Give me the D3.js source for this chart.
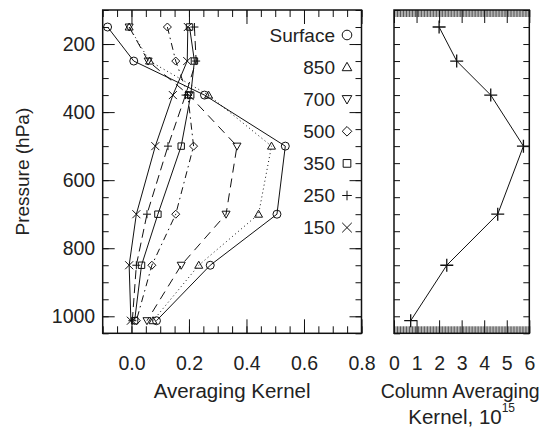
<!DOCTYPE html>
<html>
<head>
<meta charset="utf-8">
<script src="https://cdn.jsdelivr.net/npm/d3@7"></script>
<style>
  body { margin: 0; background: #fff; }
  text { font-family: "Liberation Sans", Arial, Helvetica, sans-serif; fill: #222; }
</style>
</head>
<body>
<div id="chart"></div>
<script>
// pressure levels (hPa) where the kernels are given
var pressureLevels = [150, 250, 350, 500, 700, 850, 1013];
var seriesNames = ["Surface", "850", "700", "500", "350", "250", "150"];

// averaging kernel rows, one per retrieval level
var akSurface = [-0.083, 0.008, 0.254, 0.535, 0.506, 0.274, 0.087];
var ak850 = [-0.008, 0.063, 0.268, 0.487, 0.442, 0.234, 0.075];
var ak700 = [-0.008, 0.058, 0.200, 0.367, 0.329, 0.173, 0.054];
var ak500 = [0.125, 0.154, 0.196, 0.216, 0.154, 0.071, 0.017];
var ak350 = [0.202, 0.219, 0.206, 0.173, 0.092, 0.035, 0.011];
var ak250 = [0.219, 0.225, 0.188, 0.127, 0.054, 0.017, 0.003];
var ak150 = [0.196, 0.194, 0.144, 0.083, 0.017, -0.008, -0.002];

// column averaging kernel, units of 10^15
var columnAK = [2.0, 2.78, 4.29, 5.74, 4.6, 2.34, 0.74];

var akTicks = [0.0, 0.2, 0.4, 0.6, 0.8];
var columnTicks = [0, 1, 2, 3, 4, 5, 6];
var pressureTicks = [200, 400, 600, 800, 1000];

var allSeries = [akSurface, ak850, ak700, ak500, ak350, ak250, ak150];
var markerTypes = ["circle", "triUp", "triDown", "diamond", "square", "plus", "cross"];
var dashes = [null, "1,3", "9,6", "7,4,1.5,4", null, "9,5", null];

var W = 542, H = 427;
var plotTop = 10, plotBottom = 333.3;
var left1 = 102.7, right1 = 361.5;
var left2 = 394, right2 = 529.3;
var tickFont = 19.5, titleFont = 20.5, legendFont = 19;

var svg = d3.select("#chart").append("svg")
  .attr("width", W)
  .attr("height", H);

var yScale = d3.scaleLinear()
  .domain([100, 1050])
  .range([plotTop, plotBottom]);

var xLeft = d3.scaleLinear()
  .domain([-0.1, 0.8])
  .range([left1, right1]);

var xRight = d3.scaleLinear()
  .domain([0, 6])
  .range([left2, right2]);

var markerPath = function(type, s) {
  var p = d3.path();
  if (type == "circle") {
    p.moveTo(s, 0);
    p.arc(0, 0, s, 0, 2 * Math.PI);
  } else if (type == "triUp") {
    p.moveTo(-s, s * 0.75); p.lineTo(s, s * 0.75); p.lineTo(0, -s * 1.0); p.closePath();
  } else if (type == "triDown") {
    p.moveTo(-s, -s * 0.75); p.lineTo(s, -s * 0.75); p.lineTo(0, s * 1.0); p.closePath();
  } else if (type == "diamond") {
    p.moveTo(0, -s); p.lineTo(s, 0); p.lineTo(0, s); p.lineTo(-s, 0); p.closePath();
  } else if (type == "square") {
    p.rect(-s * 0.8, -s * 0.8, s * 1.6, s * 1.6);
  } else if (type == "plus") {
    p.moveTo(-s, 0); p.lineTo(s, 0); p.moveTo(0, -s); p.lineTo(0, s);
  } else if (type == "cross") {
    p.moveTo(-s, -s); p.lineTo(s, s); p.moveTo(-s, s); p.lineTo(s, -s);
  }
  return p.toString();
};

// tick helper: no domain line, just the ticks
var addTicks = function(axis, vals, size, transform, sw) {
  var g = svg.append("g")
    .attr("transform", transform)
    .call(axis.tickValues(vals).tickSize(size).tickFormat(""));
  g.select(".domain").remove();
  g.selectAll("line").attr("stroke", "#111").attr("stroke-width", sw || 1);
  return g;
};

// ---------- left panel ----------
var yMinor = d3.range(100, 1051, 50);
var akMinor = d3.range(-0.1, 0.8001, 0.05);

addTicks(d3.axisLeft(yScale), yMinor, -6, "translate(" + left1 + ",0)");
addTicks(d3.axisLeft(yScale), pressureTicks, -12, "translate(" + left1 + ",0)");
addTicks(d3.axisRight(yScale), yMinor, -6, "translate(" + right1 + ",0)");
addTicks(d3.axisRight(yScale), pressureTicks, -12, "translate(" + right1 + ",0)");
addTicks(d3.axisBottom(xLeft), akMinor, -7, "translate(0," + plotBottom + ")");
addTicks(d3.axisBottom(xLeft), akTicks, -14, "translate(0," + plotBottom + ")");
addTicks(d3.axisTop(xLeft), akMinor, -7, "translate(0," + plotTop + ")");
addTicks(d3.axisTop(xLeft), akTicks, -14, "translate(0," + plotTop + ")");

var yLabels = svg.append("g")
  .attr("transform", "translate(" + left1 + ",0)")
  .call(d3.axisLeft(yScale).tickValues(pressureTicks).tickSize(0).tickPadding(7.5).tickFormat(d3.format("d")));
yLabels.select(".domain").remove();
yLabels.selectAll("text").attr("font-size", tickFont).attr("font-family", null).attr("fill", null);

var xLabels = svg.append("g")
  .attr("transform", "translate(0," + plotBottom + ")")
  .call(d3.axisBottom(xLeft).tickValues(akTicks).tickSize(0).tickPadding(22.5).tickFormat(d3.format(".1f")));
xLabels.select(".domain").remove();
xLabels.selectAll("text").attr("font-size", tickFont).attr("font-family", null).attr("fill", null);

svg.append("rect")
  .attr("x", left1).attr("y", plotTop)
  .attr("width", right1 - left1).attr("height", plotBottom - plotTop)
  .attr("fill", "none").attr("stroke", "#111").attr("stroke-width", 1.5);

var line = d3.line()
  .x(function(d, i) { return xLeft(d); })
  .y(function(d, i) { return yScale(pressureLevels[i]); });

for (var k = 0; k < allSeries.length; k++) {
  svg.append("path")
    .datum(allSeries[k])
    .attr("d", line)
    .attr("fill", "none")
    .attr("stroke", "#111")
    .attr("stroke-width", 1)
    .attr("stroke-dasharray", dashes[k]);

  svg.selectAll(".mk" + k)
    .data(allSeries[k])
    .enter()
    .append("path")
    .attr("class", "mk" + k)
    .attr("transform", function(d, i) { return "translate(" + xLeft(d) + "," + yScale(pressureLevels[i]) + ")"; })
    .attr("d", markerPath(markerTypes[k], 4))
    .attr("fill", "none")
    .attr("stroke", "#111")
    .attr("stroke-width", 1);
}

// legend
var legend = svg.selectAll(".legend")
  .data(seriesNames)
  .enter()
  .append("g")
  .attr("class", "legend")
  .attr("transform", function(d, i) { return "translate(0," + (35 + i * 32.1) + ")"; });

legend.append("text")
  .attr("x", 335)
  .attr("y", 6.8)
  .attr("text-anchor", "end")
  .attr("font-size", legendFont)
  .text(function(d) { return d; });

legend.append("path")
  .attr("transform", "translate(347,0)")
  .attr("d", function(d, i) { return markerPath(markerTypes[i], 4.8); })
  .attr("fill", "none")
  .attr("stroke", "#111")
  .attr("stroke-width", 1);

svg.append("text")
  .attr("x", (left1 + right1) / 2)
  .attr("y", 398)
  .attr("text-anchor", "middle")
  .attr("font-size", titleFont)
  .text("Averaging Kernel");

svg.append("text")
  .attr("transform", "translate(28.5," + ((plotTop + plotBottom) / 2) + ") rotate(-90)")
  .attr("text-anchor", "middle")
  .attr("font-size", 19)
  .text("Pressure (hPa)");

// ---------- right panel ----------
var colMinor = d3.range(0, 6.001, 1 / 15);

addTicks(d3.axisLeft(yScale), yMinor, -6, "translate(" + left2 + ",0)");
addTicks(d3.axisRight(yScale), yMinor, -6, "translate(" + right2 + ",0)");
addTicks(d3.axisBottom(xRight), colMinor, -7, "translate(0," + plotBottom + ")", 0.7);
addTicks(d3.axisBottom(xRight), columnTicks, -13, "translate(0," + plotBottom + ")");
addTicks(d3.axisTop(xRight), colMinor, -7, "translate(0," + plotTop + ")", 0.7);
addTicks(d3.axisTop(xRight), columnTicks, -13, "translate(0," + plotTop + ")");

var cLabels = svg.append("g")
  .attr("transform", "translate(0," + plotBottom + ")")
  .call(d3.axisBottom(xRight).tickValues(columnTicks).tickSize(0).tickPadding(22.5).tickFormat(d3.format("d")));
cLabels.select(".domain").remove();
cLabels.selectAll("text").attr("font-size", tickFont).attr("font-family", null).attr("fill", null);

svg.append("rect")
  .attr("x", left2).attr("y", plotTop)
  .attr("width", right2 - left2).attr("height", plotBottom - plotTop)
  .attr("fill", "none").attr("stroke", "#111").attr("stroke-width", 1.5);

var colLine = d3.line()
  .x(function(d, i) { return xRight(d); })
  .y(function(d, i) { return yScale(pressureLevels[i]); });

svg.append("path")
  .datum(columnAK)
  .attr("d", colLine)
  .attr("fill", "none")
  .attr("stroke", "#111")
  .attr("stroke-width", 1);

svg.selectAll(".colmk")
  .data(columnAK)
  .enter()
  .append("path")
  .attr("class", "colmk")
  .attr("transform", function(d, i) { return "translate(" + xRight(d) + "," + yScale(pressureLevels[i]) + ")"; })
  .attr("d", markerPath("plus", 6.5))
  .attr("fill", "none")
  .attr("stroke", "#111")
  .attr("stroke-width", 1.3);

var cx = (left2 + right2) / 2;
svg.append("text")
  .attr("x", cx - 1.5)
  .attr("y", 398)
  .attr("text-anchor", "middle")
  .attr("font-size", 19.5)
  .text("Column Averaging");

var t2 = svg.append("text")
  .attr("x", cx)
  .attr("y", 424)
  .attr("text-anchor", "middle")
  .attr("font-size", titleFont);
t2.append("tspan").text("Kernel, 10");
t2.append("tspan").attr("dy", -12).attr("font-size", 12).text("15");
</script>
</body>
</html>
